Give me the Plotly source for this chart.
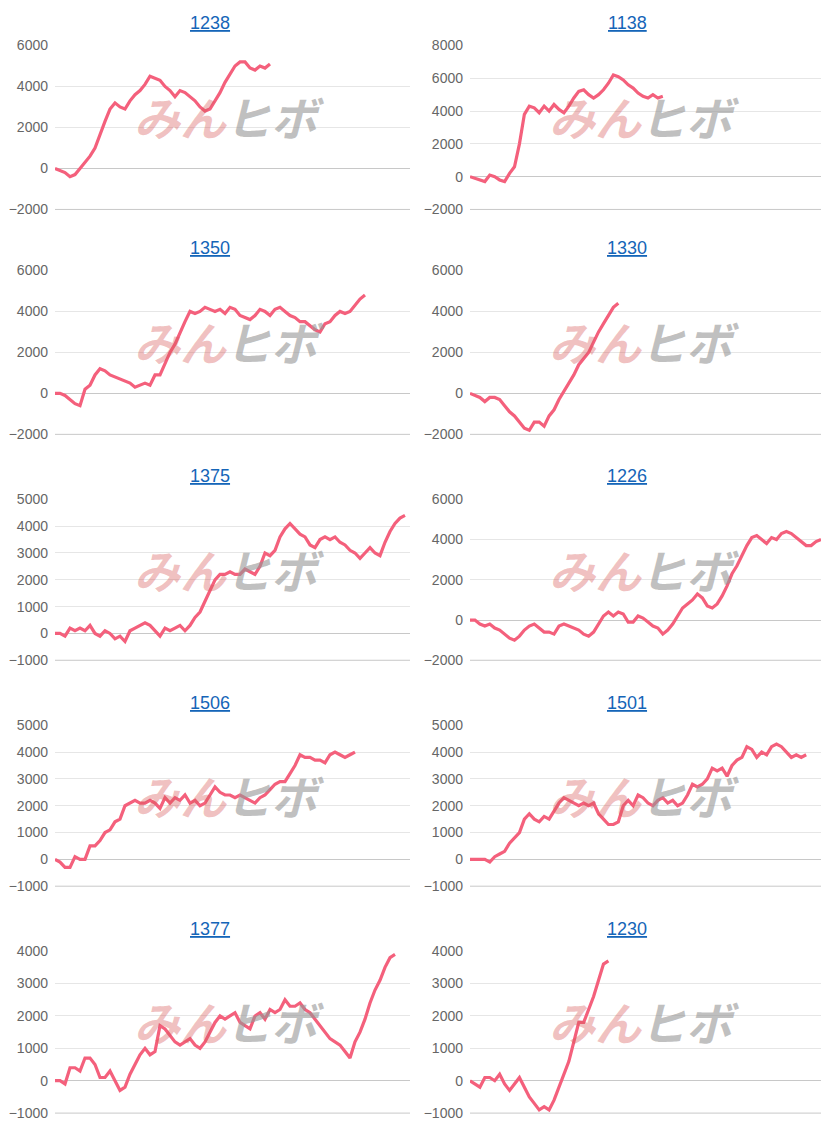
import plotly.graph_objects as go

titles = ["1238", "1138", "1350", "1330", "1375", "1226", "1506", "1501", "1377", "1230"]

s1238 = [0,-100,-200,-400,-300,0,300,600,1000,1700,2300,2900,3200,3000,2900,3300,3600,3800,4100,4500,4400,4300,4000,3800,3500,3800,3700,3500,3300,3000,2800,2900,3300,3700,4200,4600,5000,5200,5200,4900,4800,5000,4900,5100]
s1138 = [0,-100,-200,-300,100,0,-200,-300,200,600,2000,3800,4300,4200,3900,4300,4000,4400,4100,3900,4300,4800,5200,5300,5000,4800,5000,5300,5700,6200,6100,5900,5600,5400,5100,4900,4800,5000,4800,4900]
s1350 = [0,0,-100,-300,-500,-600,200,400,900,1200,1100,900,800,700,600,500,300,400,500,400,900,900,1500,2000,2400,3000,3500,4000,3900,4000,4200,4100,4000,4100,3900,4200,4100,3800,3700,3600,3800,4100,4000,3800,4100,4200,4000,3800,3700,3500,3500,3300,3100,3000,3400,3500,3800,4000,3900,4000,4300,4600,4800]
s1330 = [0,-100,-200,-400,-200,-200,-300,-600,-900,-1100,-1400,-1700,-1800,-1400,-1400,-1600,-1100,-800,-300,100,500,900,1400,1700,2000,2500,3000,3400,3800,4200,4400]
s1375 = [0,0,-100,200,100,200,100,300,0,-100,100,0,-200,-100,-300,100,200,300,400,300,100,-100,200,100,200,300,100,300,600,800,1200,1600,2000,2200,2200,2300,2200,2200,2400,2300,2200,2500,3000,2900,3100,3600,3900,4100,3900,3700,3600,3300,3200,3500,3600,3500,3600,3400,3300,3100,3000,2800,3000,3200,3000,2900,3400,3800,4100,4300,4400]
s1226 = [0,0,-200,-300,-200,-400,-500,-700,-900,-1000,-800,-500,-300,-200,-400,-600,-600,-700,-300,-200,-300,-400,-500,-700,-800,-600,-200,200,400,200,400,300,-100,-100,200,100,-100,-300,-400,-700,-500,-200,200,600,800,1000,1300,1100,700,600,800,1200,1700,2300,2700,3200,3700,4100,4200,4000,3800,4100,4000,4300,4400,4300,4100,3900,3700,3700,3900,4000]
s1506 = [0,-100,-300,-300,100,0,0,500,500,700,1000,1100,1400,1500,2000,2100,2200,2100,2100,2200,2100,1900,2300,2100,2300,2200,2400,2100,2200,2000,2100,2400,2700,2500,2400,2400,2300,2400,2300,2200,2100,2300,2400,2600,2800,2900,2900,3200,3500,3900,3800,3800,3700,3700,3600,3900,4000,3900,3800,3900,4000]
s1501 = [0,0,0,0,-100,100,200,300,600,800,1000,1500,1700,1500,1400,1600,1500,1800,2100,2300,2200,2100,2000,2100,2000,2100,1700,1500,1300,1300,1400,2000,2200,2000,2400,2300,2100,2000,2200,2300,2100,2200,2000,2100,2400,2800,2700,2800,3000,3400,3300,3400,3100,3500,3700,3800,4200,4100,3800,4000,3900,4200,4300,4200,4000,3800,3900,3800,3900]
s1377 = [0,0,-100,400,400,300,700,700,500,100,100,300,0,-300,-200,200,500,800,1000,800,900,1700,1600,1400,1200,1100,1200,1300,1100,1000,1200,1500,1800,2000,1900,2000,2100,1800,1700,1600,2000,2100,1900,2200,2100,2200,2500,2300,2300,2400,2200,2100,1900,1700,1500,1300,1200,1100,900,700,1200,1500,1900,2400,2800,3100,3500,3800,3900]
s1230 = [0,-100,-200,100,100,0,200,-100,-300,-100,100,-200,-500,-700,-900,-800,-900,-600,-200,200,600,1200,1800,1800,2200,2600,3100,3600,3700]

series = [s1238, s1138, s1350, s1330, s1375, s1226, s1506, s1501, s1377, s1230]
yranges = [(-2000,6000,2000),(-2000,8000,2000),(-2000,6000,2000),(-2000,6000,2000),(-1000,5000,1000),
           (-2000,6000,2000),(-1000,5000,1000),(-1000,5000,1000),(-1000,4000,1000),(-1000,4000,1000)]

OFF = 8
W, H = 829 - 2*OFF, 1130 - 2*OFF
rows_px = [(45,209),(270,434),(499,660),(725,886),(951,1113)]
title_px = [22,248,476,703,929]
cols_px = [(55,410),(470,828)]
title_x = [210, 627]

def px(v): return (v - OFF) / W
def py(v):
    v = (v - 7.6) / 0.986
    return max(0, min(1, 1 - (v - OFF) / H))

fig = go.Figure()
for k in range(10):
    r, c = divmod(k, 2)
    n = k + 1
    xa = "x" if n == 1 else f"x{n}"
    ya = "y" if n == 1 else f"y{n}"
    vals = series[k]
    fig.add_trace(go.Scatter(x=list(range(len(vals))), y=vals, mode="lines",
                             line=dict(color="#f4607c", width=3.2), xaxis=xa, yaxis=ya,
                             showlegend=False, hoverinfo="skip"))
    x0, x1 = cols_px[c]
    y0, y1 = rows_px[r]
    lo, hi, dt = yranges[k]
    fig.layout[f"xaxis{'' if n==1 else n}"] = dict(domain=[px(x0), min(1, px(x1))], range=[0, 71], visible=False,
                                                   anchor=ya)
    fig.layout[f"yaxis{'' if n==1 else n}"] = dict(domain=[py(y1), py(y0)], range=[lo, hi], dtick=dt,
                                                   anchor=xa, showgrid=True, gridcolor="#e6e6e6",
                                                   zeroline=True, zerolinecolor="#c8c8c8", zerolinewidth=1,
                                                   tickfont=dict(family="Arial, Liberation Sans", size=14, color="#666"),
                                                   showline=False, ticks="", ticklabelstandoff=6)
    fig.add_annotation(text=f"<u>{titles[k]}</u>", x=px(title_x[c]), y=py(title_px[r]), xanchor="center", yanchor="middle",
                       xref="paper", yref="paper", showarrow=False,
                       font=dict(family="Arial, Liberation Sans", size=18, color="#1565b8"))
    cy = py((y0 + y1) / 2 - 11)
    mid = x0 + 174
    fig.add_annotation(text="<b><i>みん</i></b>", x=px(mid), y=cy, xref="paper", yref="paper",
                       xanchor="right", yanchor="middle",
                       showarrow=False, font=dict(family="Noto Sans CJK JP", size=46, color="rgba(215,90,90,0.38)"))
    fig.add_annotation(text="<b><i>ヒボ</i></b>", x=px(mid - 6), y=cy, xref="paper", yref="paper",
                       xanchor="left", yanchor="middle",
                       showarrow=False, font=dict(family="Noto Sans CJK JP", size=46, color="rgba(150,150,150,0.6)"))
    fig.add_shape(type="line", xref="paper", yref="paper", x0=px(x0), x1=min(1, px(x1)), y0=py(y1), y1=py(y1),
                  line=dict(color="#c8c8c8", width=1))

fig.update_layout(width=W, height=H, margin=dict(l=0, r=0, t=0, b=0),
                  paper_bgcolor="white", plot_bgcolor="white")
fig.write_html("out.html")
